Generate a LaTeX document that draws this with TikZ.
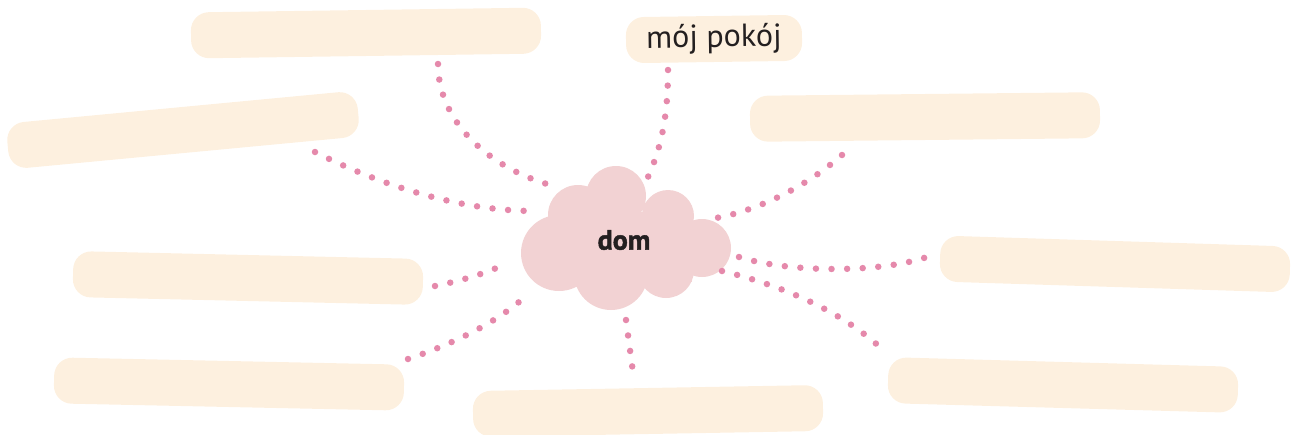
\documentclass[tikz,border=0pt]{standalone}
\usepackage{fontspec}
\setmainfont{PT Sans}
\newfontfamily\domfont{PT Sans}[BoldFeatures={FakeBold=1.6}]
\definecolor{boxfill}{HTML}{FDF0DF}
\definecolor{cloudfill}{HTML}{F2D2D3}
\definecolor{dotpink}{HTML}{E589AB}
\definecolor{ink}{HTML}{231F20}
\tikzset{
	field/.style={fill=boxfill, rounded corners=18pt, minimum width=350pt, minimum height=46pt, inner sep=0pt},
	dots/.style={dotpink, line width=6.5pt, line cap=round, dash pattern=on 0pt off 15.6pt},
}
\begin{document}
\begin{tikzpicture}[x=1pt,y=-1pt]
	\useasboundingbox (0,0) rectangle (1296,434);
	
	%Felder
	\node[field, rotate=0.8] (feldA) at (366,33) {};
	\node[field, minimum width=176pt, rotate=0.8, text=ink, font=\fontsize{32}{32}\selectfont] (pokoj) at (714,39) {mój pokój};
	\node[field, minimum width=352pt, rotate=5.4] (feldB) at (183,130) {};
	\node[field, rotate=0.6] (feldC) at (925,117) {};
	\node[field, rotate=-1.3] (feldD) at (248,278) {};
	\node[field, rotate=-1.8] (feldE) at (1115,264) {};
	\node[field, rotate=-1.2] (feldF) at (229,384) {};
	\node[field, rotate=1] (feldG) at (648,411) {};
	\node[field, rotate=-1.6] (feldH) at (1063,385) {};
	
	%Wolke
	\fill[cloudfill] (559,253) circle (38pt) (578,215) circle (30pt) (616,196) circle (30pt)
		(668,216) circle (26pt) (702,248) circle (29pt) (666,270) circle (28pt) (611,273) circle (37pt);
	\fill[cloudfill] (570,212) rectangle (692,282);
	\node[text=ink, font=\fontsize{28}{28}\selectfont\domfont\bfseries] (dom) at (624,240) {dom};
	
	%Punkte
	\coordinate (a1) at (438,64);   \coordinate (a2) at (558,187);
	\coordinate (b1) at (668,70);   \coordinate (b2) at (648,177);
	\coordinate (c1) at (315,152);  \coordinate (c2) at (534,211);
	\coordinate (d1) at (842,155);  \coordinate (d2) at (716,218);
	\coordinate (e1) at (435,286);  \coordinate (e2) at (507,263);
	\coordinate (f1) at (739,257);  \coordinate (f2) at (927,257);
	\coordinate (g1) at (408,359);  \coordinate (g2) at (530,292);
	\coordinate (h1) at (626,320);  \coordinate (h2) at (634,380);
	\coordinate (i1) at (722,271);  \coordinate (i2) at (882,349);
	
	\draw[dots] (a1) .. controls (438,125) and (495,172) .. (a2);
	\draw[dots] (b1) .. controls (668,120) and (660,150) .. (b2);
	\draw[dots] (c1) .. controls (380,185) and (460,211) .. (c2);
	\draw[dots] (d1) .. controls (800,192) and (750,212) .. (d2);
	\draw[dots] (e1) .. controls (460,281) and (488,273) .. (e2);
	\draw[dots] (f1) .. controls (790,273) and (880,273) .. (f2);
	\draw[dots] (g1) .. controls (450,345) and (500,322) .. (g2);
	\draw[dots] (h1) -- (h2);
	\draw[dots] (i1) .. controls (780,285) and (840,310) .. (i2);
\end{tikzpicture}
\end{document}
